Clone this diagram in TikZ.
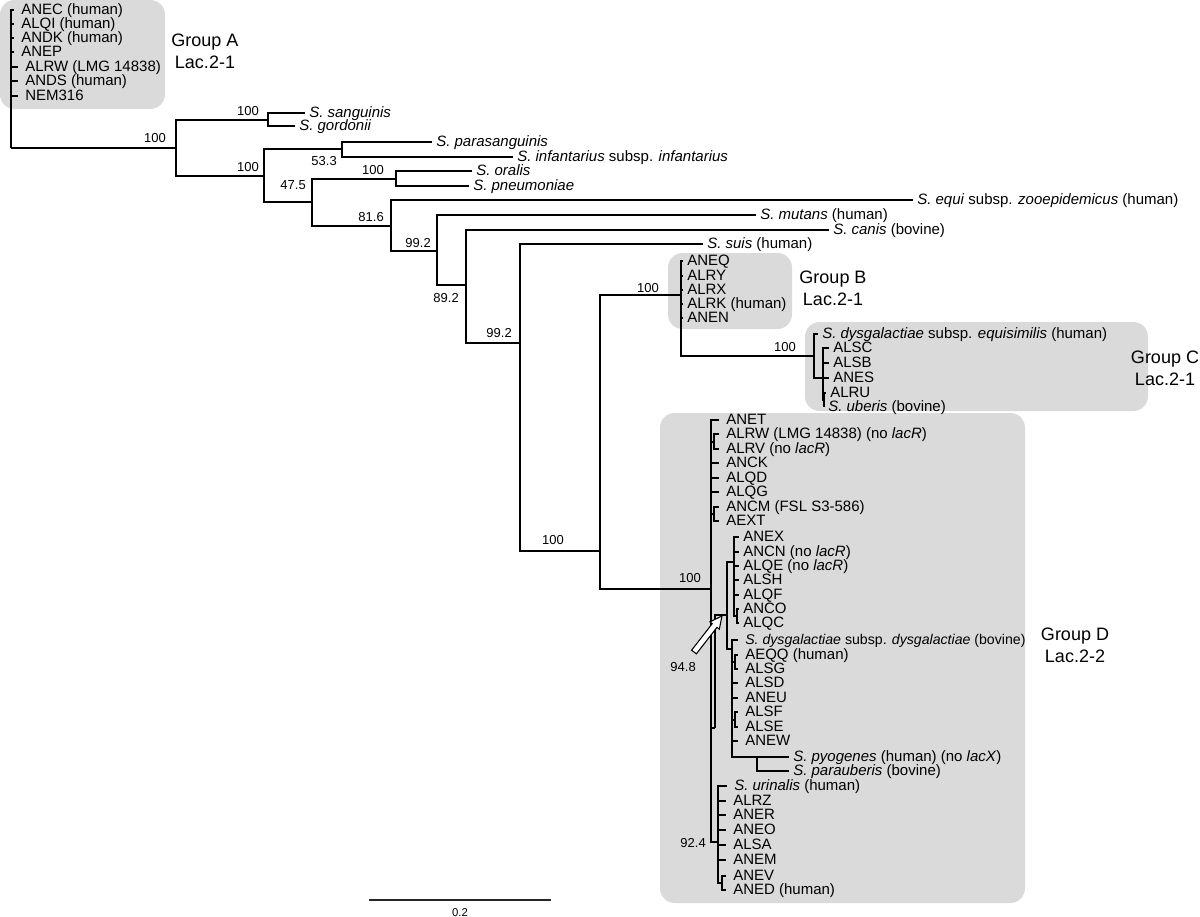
\documentclass[tikz,border=0pt]{standalone}
\usepackage{fontspec}
\setmainfont{Liberation Sans}
\definecolor{grpgrey}{RGB}{218,218,218}
\tikzset{
  branch/.style={line width=1.25pt},
  tip/.style={anchor=west, inner xsep=3pt, inner ysep=0pt, text height=1.38ex, text depth=0pt, font=\fontsize{11.25}{13}\selectfont},
  tipc/.style={tip, inner xsep=5.25pt},
  boot/.style={anchor=east, inner sep=0.75pt, font=\fontsize{9.75}{11}\selectfont},
  grplabel/.style={align=center, inner sep=0.75pt, font=\fontsize{13.5}{16.5}\selectfont},
  grpbox/.style={fill=grpgrey, rounded corners=11pt},
}

\begin{document}
\begin{tikzpicture}[x=0.75pt,y=0.75pt,yscale=-1,xscale=1]
\useasboundingbox (0,0) rectangle (1200,917);

%Rounded Rect [group boxes]
\fill[grpbox] (0,0) rectangle (165,109);
\fill[grpbox] (668,253) rectangle (792,329);
\fill[grpbox] (805,322) rectangle (1148,411);
\fill[grpbox] (660,413) rectangle (1025,903);

%Inner nodes of the tree
\coordinate (root) at (11,148);
\coordinate (n1) at (176,148);
\coordinate (n2) at (268,120);
\coordinate (n3) at (264,176);
\coordinate (n4) at (342,149);
\coordinate (n5) at (312,202);
\coordinate (n6) at (396,179);
\coordinate (n7) at (391,226);
\coordinate (n8) at (437,251);
\coordinate (n9) at (466,285);
\coordinate (n10) at (520,343);
\coordinate (n11) at (600,551);
\coordinate (n12) at (681,295);
\coordinate (nC) at (814,356);
\coordinate (nC1) at (823,378);
\coordinate (nC2) at (824,400);
\coordinate (nD) at (711,589);
\coordinate (nD1) at (714,442);
\coordinate (nD2) at (714,514);
\coordinate (nE) at (715,728);
\coordinate (nF) at (727,615);
\coordinate (nD3) at (734,562);
\coordinate (nD3a) at (737,616);
\coordinate (nG) at (732,649);
\coordinate (nG1) at (735,662);
\coordinate (nG2) at (735,720);
\coordinate (nG3) at (757,757);
\coordinate (nU) at (718,842);
\coordinate (nU1) at (722,883);

% Text Node [group A]
\node[tipc] (anec) at (14,10) {ANEC (human)};
\node[tipc] (alqi) at (14,24) {ALQI (human)};
\node[tipc] (andk) at (14,38) {ANDK (human)};
\node[tipc] (anep) at (14,52) {ANEP};
\node[tipc] (alrwa) at (18,67) {ALRW (LMG 14838)};
\node[tipc] (ands) at (18,81) {ANDS (human)};
\node[tipc] (nem) at (18,96) {NEM316};

% Text Node [species]
\node[tip] (sang) at (305,113) {\textit{S. sanguinis}};
\node[tip] (gord) at (295,126) {\textit{S. gordonii}};
\node[tip] (para) at (432,142) {\textit{S. parasanguinis}};
\node[tip] (infa) at (513,157) {\textit{S. infantarius} subsp. \textit{infantarius}};
\node[tip] (oral) at (472,171) {\textit{S. oralis}};
\node[tip] (pneu) at (469,186) {\textit{S. pneumoniae}};
\node[tip] (equi) at (913,200) {\textit{S. equi} subsp. \textit{zooepidemicus} (human)};
\node[tip] (mut) at (756,215) {\textit{S. mutans} (human)};
\node[tip] (can) at (829,230) {\textit{S. canis} (bovine)};
\node[tip] (suis) at (703,244) {\textit{S. suis} (human)};

% Text Node [group B]
\node[tip] (aneq) at (683,261) {ANEQ};
\node[tip] (alry) at (683,276) {ALRY};
\node[tip] (alrx) at (683,290) {ALRX};
\node[tip] (alrk) at (683,304) {ALRK (human)};
\node[tip] (anen) at (683,318) {ANEN};

% Text Node [group C]
\node[tip] (sde) at (818,334) {\textit{S. dysgalactiae} subsp. \textit{equisimilis} (human)};
\node[tip] (alsc) at (829,348) {ALSC};
\node[tip] (alsb) at (829,363) {ALSB};
\node[tip] (anes) at (829,378) {ANES};
\node[tip] (alru) at (826,393) {ALRU};
\node[tip] (uber) at (824,407) {\textit{S. uberis} (bovine)};

% Text Node [group D]
\node[tipc] (anet) at (719,420) {ANET};
\node[tipc] (alrwd) at (719,434) {ALRW (LMG 14838) (no \textit{lacR})};
\node[tipc] (alrv) at (719,449) {ALRV (no \textit{lacR})};
\node[tipc] (anck) at (719,463) {ANCK};
\node[tipc] (alqd) at (719,478) {ALQD};
\node[tipc] (alqg) at (719,492) {ALQG};
\node[tipc] (ancm) at (719,507) {ANCM (FSL S3-586)};
\node[tipc] (aext) at (719,521) {AEXT};
\node[tip] (anex) at (739,537) {ANEX};
\node[tip] (ancn) at (739,552) {ANCN (no \textit{lacR})};
\node[tip] (alqe) at (739,566) {ALQE (no \textit{lacR})};
\node[tip] (alsh) at (739,580) {ALSH};
\node[tip] (alqf) at (739,595) {ALQF};
\node[tip] (anco) at (739,609) {ANCO};
\node[tip] (alqc) at (739,623) {ALQC};
\node[tipc, font=\fontsize{10.6}{13}\selectfont] (sdd) at (738,640) {\textit{S. dysgalactiae} subsp. \textit{dysgalactiae} (bovine)};
\node[tipc] (aeqq) at (738,655) {AEQQ (human)};
\node[tipc] (alsg) at (738,669) {ALSG};
\node[tipc] (alsd) at (738,683) {ALSD};
\node[tipc] (aneu) at (738,698) {ANEU};
\node[tipc] (alsf) at (738,712) {ALSF};
\node[tipc] (alse) at (738,727) {ALSE};
\node[tipc] (anew) at (738,741) {ANEW};
\node[tip] (pyog) at (789,757) {\textit{S. pyogenes} (human) (no \textit{lacX})};
\node[tip] (parab) at (789,771) {\textit{S. parauberis} (bovine)};
\node[tipc] (urin) at (727,786) {\textit{S. urinalis} (human)};
\node[tipc] (alrz) at (726,801) {ALRZ};
\node[tipc] (aner) at (726,815) {ANER};
\node[tipc] (aneo) at (726,830) {ANEO};
\node[tipc] (alsa) at (726,845) {ALSA};
\node[tipc] (anem) at (726,860) {ANEM};
\node[tipc] (anev) at (726,876) {ANEV};
\node[tipc] (aned) at (726,890) {ANED (human)};

%Branches
\draw[branch] (root) |- (anec.west) (root) |- (alqi.west) (root) |- (andk.west) (root) |- (anep.west);
\draw[branch] (root) |- (alrwa.west) (root) |- (ands.west) (root) |- (nem.west);
\draw[branch] (root) -- (n1);
\draw[branch] (n1) |- (n2) (n1) |- (n3);
\draw[branch] (n2) |- (sang.west) (n2) |- (gord.west);
\draw[branch] (n3) |- (n4) (n3) |- (n5);
\draw[branch] (n4) |- (para.west) (n4) |- (infa.west);
\draw[branch] (n5) |- (n6) (n5) |- (n7);
\draw[branch] (n6) |- (oral.west) (n6) |- (pneu.west);
\draw[branch] (n7) |- (equi.west) (n7) |- (n8);
\draw[branch] (n8) |- (mut.west) (n8) |- (n9);
\draw[branch] (n9) |- (can.west) (n9) |- (n10);
\draw[branch] (n10) |- (suis.west) (n10) |- (n11);
\draw[branch] (n11) |- (n12) (n11) |- (nD);
%group B
\draw[branch] (n12) |- (aneq.west) (n12) |- (alry.west) (n12) |- (alrx.west) (n12) |- (alrk.west) (n12) |- (anen.west);
\draw[branch] (n12) |- (nC);
%group C
\draw[branch] (nC) |- (sde.west) (nC) |- (nC1);
\draw[branch] (nC1) |- (alsc.west) (nC1) |- (alsb.west) (nC1) |- (anes.west) (nC1) |- (nC2);
\draw[branch] (nC2) |- (alru.west) (nC2) |- (uber.west);
%group D
\draw[branch] (nD) |- (anet.west) (nD) |- (nD1) (nD) |- (anck.west) (nD) |- (alqd.west) (nD) |- (alqg.west) (nD) |- (nD2);
\draw[branch] (nD1) |- (alrwd.west) (nD1) |- (alrv.west);
\draw[branch] (nD2) |- (ancm.west) (nD2) |- (aext.west);
\draw[branch] (nD) |- (nE) (nE) |- (nF) (nD) |- (nU);
\draw[branch] (nF) |- (nD3) (nF) |- (nG);
\draw[branch] (nD3) |- (anex.west) (nD3) |- (ancn.west) (nD3) |- (alqe.west) (nD3) |- (alsh.west) (nD3) |- (alqf.west) (nD3) |- (nD3a);
\draw[branch] (nD3a) |- (anco.west) (nD3a) |- (alqc.west);
\draw[branch] (nG) |- (sdd.west) (nG) |- (nG1) (nG) |- (alsd.west) (nG) |- (aneu.west) (nG) |- (nG2) (nG) |- (anew.west) (nG) |- (nG3);
\draw[branch] (nG1) |- (aeqq.west) (nG1) |- (alsg.west);
\draw[branch] (nG2) |- (alsf.west) (nG2) |- (alse.west);
\draw[branch] (nG3) |- (pyog.west) (nG3) |- (parab.west);
\draw[branch] (nU) |- (urin.west) (nU) |- (alrz.west) (nU) |- (aner.west) (nU) |- (aneo.west) (nU) |- (alsa.west) (nU) |- (anem.west) (nU) |- (nU1);
\draw[branch] (nU1) |- (anev.west) (nU1) |- (aned.west);

% Text Node [bootstrap values]
\node[boot] (b1) at (167,138) {100};
\node[boot] (b2) at (260,111) {100};
\node[boot] (b3) at (260,167) {100};
\node[boot] (b4) at (338,161) {53.3};
\node[boot] (b5) at (307,185) {47.5};
\node[boot] (b6) at (385,170) {100};
\node[boot] (b7) at (385,217) {81.6};
\node[boot] (b8) at (432,243) {99.2};
\node[boot] (b9) at (460,298) {89.2};
\node[boot] (b10) at (513,333) {99.2};
\node[boot] (b11) at (565,540) {100};
\node[boot] (b12) at (660,288) {100};
\node[boot] (b13) at (797,347) {100};
\node[boot] (b14) at (702,578) {100};
\node[boot] (b15) at (697,667) {94.8};
\node[boot] (b16) at (707,843) {92.4};

%Shape: Arrow
\filldraw[fill=white, draw=black, line width=0.8pt] (696.4,653.8) -- (717.0,627.3) -- (719.3,629.2) -- (722,616) -- (709.9,621.8) -- (712.2,623.7) -- (691.6,650.2) -- cycle;

% Text Node [group labels]
\node[grplabel] (grpA) at (205,51) {Group A\\Lac.2-1};
\node[grplabel] (grpB) at (833,288) {Group B\\Lac.2-1};
\node[grplabel] (grpC) at (1165,368) {Group C\\Lac.2-1};
\node[grplabel] (grpD) at (1075,645) {Group D\\Lac.2-2};

%Scale bar
\coordinate (sbl) at (369,900);
\coordinate (sbr) at (551,900);
\draw[line width=1.6pt, black!85] (sbl) -- (sbr);
\node[inner sep=0.75pt, font=\fontsize{8.5}{10}\selectfont] (sblab) at (460,913) {0.2};

\end{tikzpicture}
\end{document}
